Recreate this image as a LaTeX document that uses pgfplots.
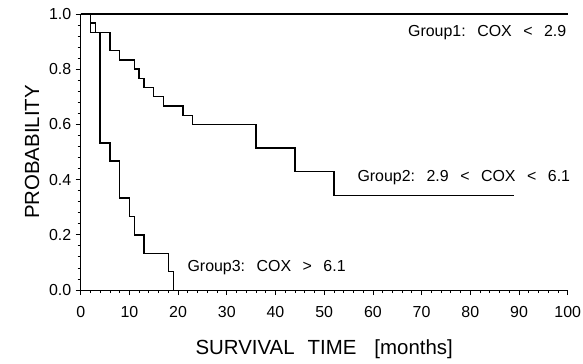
\documentclass[border=0pt]{standalone}
\usepackage{fontspec}
\setmainfont{Liberation Sans}
\usepackage{pgfplots}
\pgfplotsset{compat=1.18}
\begin{document}
\begin{tikzpicture}
\begin{axis}[
  scale only axis, width=487bp, height=276bp,
  xmin=0, xmax=100, ymin=0, ymax=1,
  axis x line=bottom, axis y line=left,
  axis line style={-, line width=0.9bp, black},
  tick align=outside,
  xtick={0,10,20,30,40,50,60,70,80,90,100},
  ytick={0,0.2,0.4,0.6,0.8,1},
  minor x tick num=4, minor y tick num=4,
  major tick length=5bp, minor tick length=3bp,
  tick style={black, line width=0.8bp},
  /pgf/number format/assume math mode=true,
  yticklabel style={/pgf/number format/fixed, /pgf/number format/fixed zerofill, /pgf/number format/precision=1, xshift=-1bp},
  xticklabel style={yshift=-8bp},
  ticklabel style={font=\fontsize{16}{19}\selectfont},
  xlabel={SURVIVAL\hspace{13bp}TIME\hspace{18bp}[months]},
  ylabel={PROBABILITY},
  label style={font=\fontsize{20.5}{24}\selectfont},
  xlabel style={at={(axis description cs:0.5,-0.2138)}, anchor=center},
  ylabel style={at={(axis description cs:-0.1,0.5)}, anchor=center},
  clip=false,
]
% Group1
\addplot[const plot, black, line width=1.4bp] coordinates {(0,1) (100,1)};
% Group2
\addplot[const plot, black, line width=1.4bp] coordinates {
(0,1) (2,0.9667) (3,0.9333) (6,0.8667) (8,0.8333) (11,0.8) (12,0.7667)
(13,0.7333) (15,0.7) (17,0.6667) (21,0.6333) (23,0.6) (36,0.5143)
(44,0.4286) (52,0.3429) (89,0.3429)};
% Group3
\addplot[const plot, black, line width=1.4bp] coordinates {
(0,1) (2,0.9333) (4,0.5333) (6,0.4667) (8,0.3333) (10,0.2667) (11,0.2)
(13,0.1333) (18,0.0667) (19,0)};
\node[anchor=base west, inner sep=0pt, font=\fontsize{16}{19}\selectfont] at (axis cs:67.2,0.917)
  {Group1:\hspace{11.5bp}COX\hspace{11.5bp}<\hspace{11.5bp}2.9};
\node[anchor=base west, inner sep=0pt, font=\fontsize{16}{19}\selectfont] at (axis cs:56.8,0.393)
  {Group2:\hspace{11.5bp}2.9\hspace{11.5bp}<\hspace{11.5bp}COX\hspace{11.5bp}<\hspace{11.5bp}6.1};
\node[anchor=base west, inner sep=0pt, font=\fontsize{16}{19}\selectfont] at (axis cs:21.9,0.066)
  {Group3:\hspace{11.5bp}COX\hspace{11.5bp}>\hspace{11.5bp}6.1};
\end{axis}
\pgfresetboundingbox
\path[use as bounding box] (-80.7bp,-74bp) rectangle (502.3bp,290bp);
\end{tikzpicture}
\end{document}
